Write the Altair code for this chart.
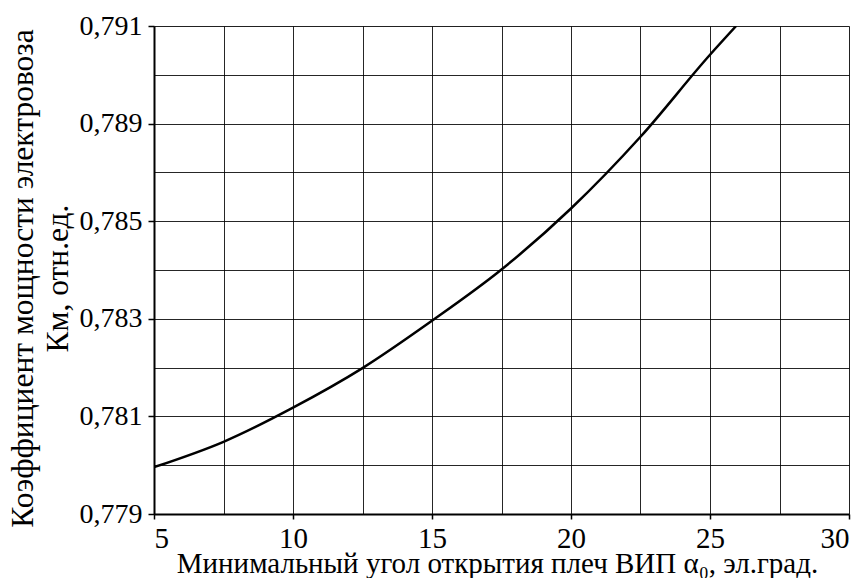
import altair as alt
import pandas as pd

# Data
alpha = [5, 7.5, 10, 12.5, 15, 17.5, 20, 22.5, 25, 25.94]
km = [0.77996, 0.78048, 0.78118, 0.78199, 0.78296, 0.78401, 0.78526, 0.78673, 0.78841, 0.789]

x_grid = [5, 7.5, 10, 12.5, 15, 17.5, 20, 22.5, 25, 27.5, 30]
x_labels = [5, 10, 15, 20, 25, 30]
y_grid = [0.779, 0.780, 0.781, 0.782, 0.783, 0.784, 0.785, 0.786, 0.787, 0.788, 0.789]
y_tick_vals = [0.779, 0.781, 0.783, 0.785, 0.787, 0.789]
y_tick_labels = ["0,779", "0,781", "0,783", "0,785", "0,789", "0,791"]

df = pd.DataFrame({"alpha": alpha, "km": km})

FONT = "Times New Roman, Liberation Serif, serif"

# label expression for y axis (labels as printed in the original)
y_expr = "".join(
    f"round(datum.value*1000)=={round(v*1000)} ? '{lab}' : " for v, lab in zip(y_tick_vals, y_tick_labels)
) + "''"
x_expr = "".join(f"datum.value=={v} ? '{v}' : " for v in x_labels) + "''"
y_tick_test = " || ".join(f"round(datum.value*1000)=={round(v*1000)}" for v in y_tick_vals)
x_tick_test = " || ".join(f"datum.value=={v}" for v in x_labels)

x_axis = alt.Axis(
    values=x_grid,
    labelExpr=x_expr,
    labelOverlap=False,
    labelFont=FONT, labelFontSize=29, labelColor="black", labelPadding=5,
    tickOpacity={"condition": {"test": x_tick_test, "value": 1}, "value": 0},
    tickColor="black", tickSize=5, tickWidth=1.5,
    domainColor="black", domainWidth=2,
    grid=True, gridColor="black", gridWidth=1, gridOpacity=0.85,
    title="Минимальный угол открытия плеч ВИП α₀, эл.град.",
    titleFont=FONT, titleFontSize=29, titleFontWeight="normal", titleColor="black",
    titleBaseline="alphabetic", titleAlign="center", titleAnchor="middle",
    titleX=343, titleY=58,
)
y_axis = alt.Axis(
    values=y_grid,
    labelExpr=y_expr,
    labelOverlap=False,
    labelFont=FONT, labelFontSize=28, labelColor="black", labelPadding=6,
    tickOpacity={"condition": {"test": y_tick_test, "value": 1}, "value": 0},
    tickColor="black", tickSize=6, tickWidth=1.5,
    domainColor="black", domainWidth=2,
    grid=True, gridColor="black", gridWidth=1, gridOpacity=0.85,
    title=["Коэффициент мощности электровоза", "Км, отн.ед."],
    titleFont=FONT, titleFontSize=31.5, titleFontWeight="normal", titleColor="black",
    titleLineHeight=35, titleBaseline="alphabetic", titleAlign="center", titleAnchor="middle",
    titleAngle=270, titleX=-122, titleY=252,
)

chart = (
    alt.Chart(df)
    .mark_line(color="black", strokeWidth=2.5, interpolate="monotone", clip=True)
    .encode(
        x=alt.X("alpha:Q", scale=alt.Scale(domain=[5, 30], nice=False, zero=False), axis=x_axis),
        y=alt.Y("km:Q", scale=alt.Scale(domain=[0.779, 0.789], nice=False, zero=False), axis=y_axis),
    )
    .properties(
        width=695, height=488,
        autosize=alt.AutoSizeParams(type="none"),
        padding={"left": 154, "top": 26, "right": 12, "bottom": 64},
    )
    .configure_view(stroke="black", strokeWidth=2)
    .configure(background="white")
)

chart.save("out.html", embed_options={"renderer": "svg", "actions": False})
